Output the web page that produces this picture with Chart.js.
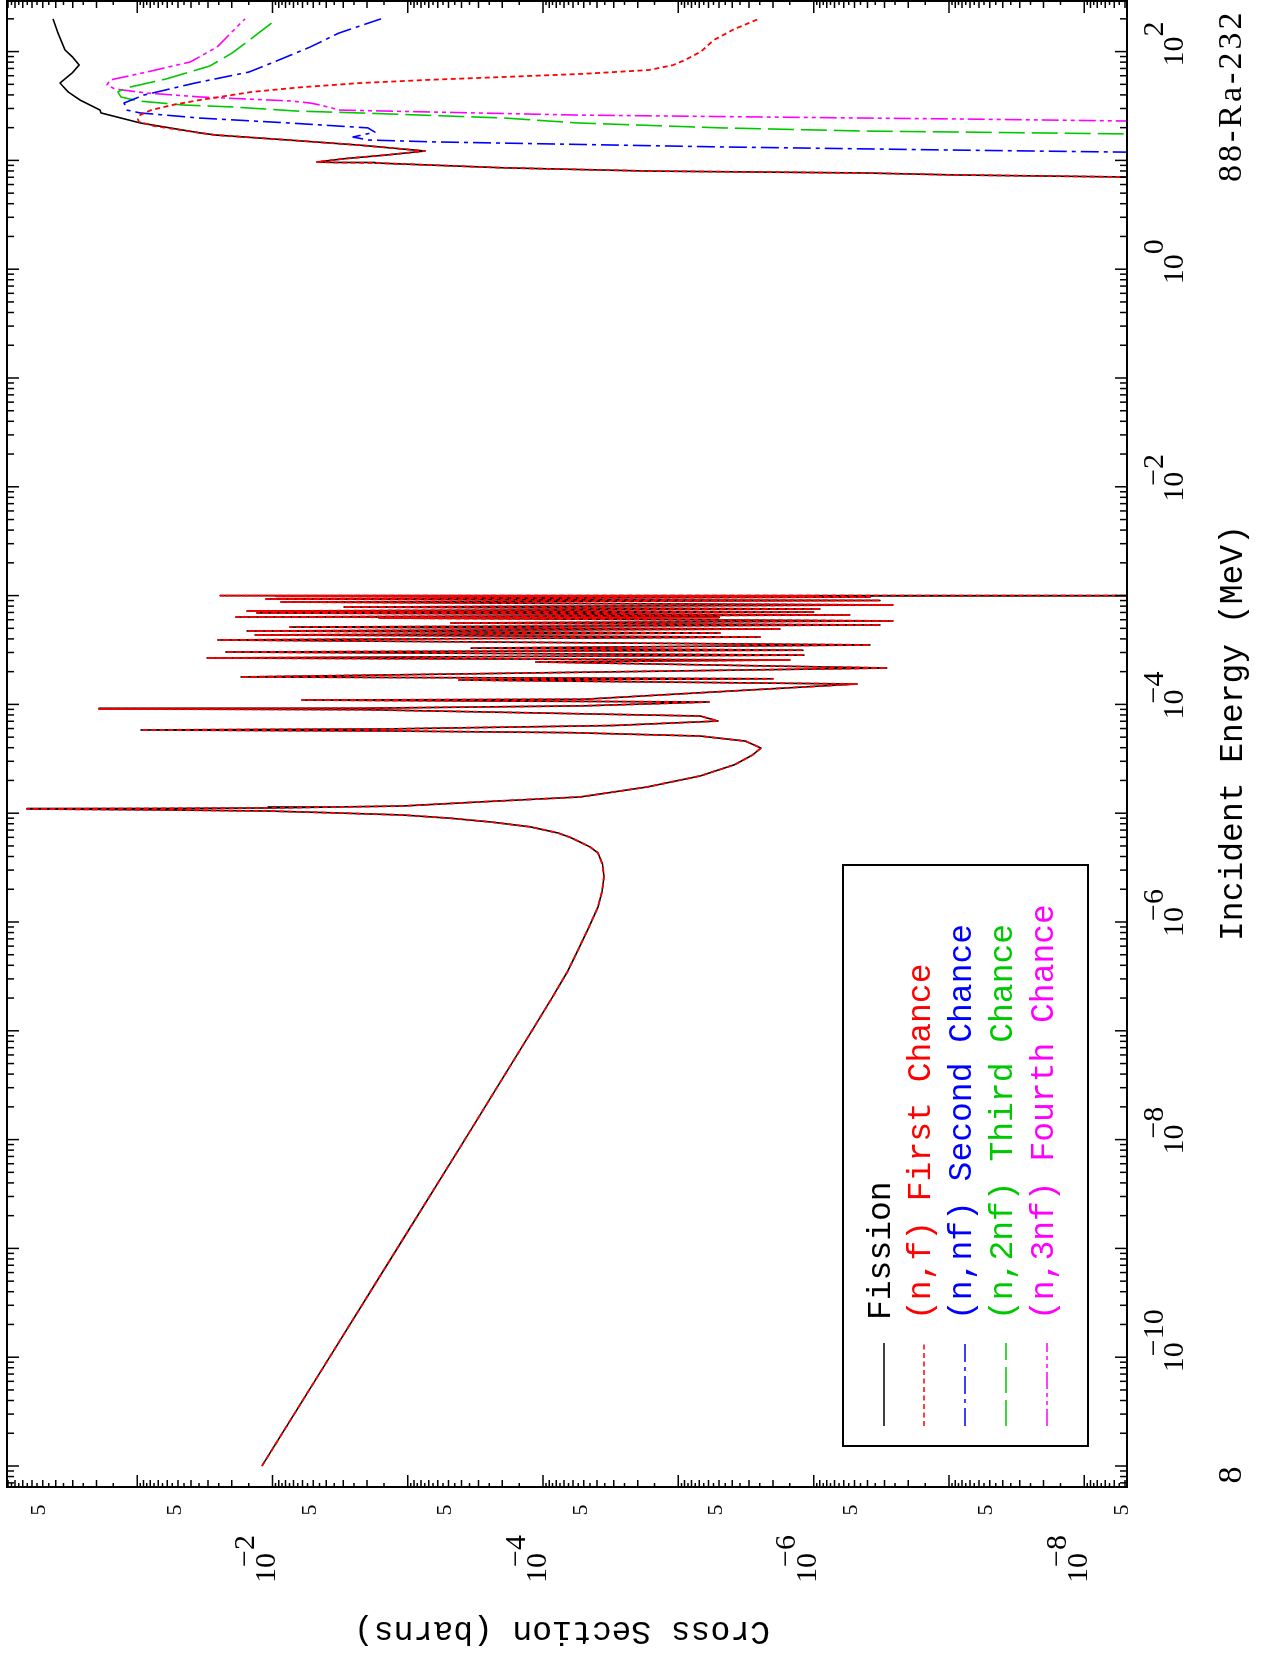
<!DOCTYPE html>
<html><head><meta charset="utf-8">
<script src="https://cdn.jsdelivr.net/npm/chart.js@4.4.1/dist/chart.umd.min.js"></script>
<style>
html,body{margin:0;padding:0;background:#fff;overflow:hidden;width:1264px;height:1661px;}
#wrap{position:absolute;left:0;top:0;width:1661px;height:1264px;transform-origin:0 0;transform:translate(0px,1661px) rotate(-90deg);background:#fff;}
canvas{display:block;}
</style></head><body>
<div id="wrap"><canvas id="c" width="1661" height="1264"></canvas></div>
<script>
// ---------------- data (energy in MeV, cross section in barns) ----------------
const fissionEnergy = [1e-11,1e-10,1e-9,1e-8,1e-7,2e-7,3.5e-7,5.77e-7,9e-7,1.374e-6,1.9e-6,2.6e-6,3.4e-6,4.31e-6,4.9e-6,5.43e-6,6.0e-6,6.58e-6,7.5e-6,8.3e-6,9.0e-6,9.63e-6,1.01e-5,1.047e-5,1.075e-5,1.093e-5,1.105e-5,1.117e-5,1.14e-5,1.164e-5,1.27e-5,1.41e-5,1.74e-5,2.2e-5,2.8e-5,3.4e-5,3.97e-5,4.6e-5,
  5.12e-5,5.5e-5,5.70e-5,5.82e-5,5.95e-5,6.4e-5,7.03e-5,7.82e-5,8.95e-5,9.08e-5,9.22e-5,9.7e-5,1.052e-4,1.096e-4,1.115e-4,
  1.54e-4,1.675e-4,1.72e-4,1.787e-4,2.16e-4,2.455e-4,2.56e-4,2.67e-4,2.84e-4,3.03e-4,3.15e-4,3.29e-4,3.52e-4,3.91e-4,4.16e-4,4.35e-4,4.53e-4,4.73e-4,4.93e-4,5.14e-4,5.37e-4,5.60e-4,5.85e-4,6.22e-4,6.28e-4,6.35e-4,6.64e-4,6.92e-4,7.06e-4,7.21e-4,7.53e-4,7.85e-4,8.2e-4,8.73e-4,9.02e-4,9.31e-4,9.7e-4,9.85e-4,9.92e-4,1.0e-3,1.0e-3,
  6.9,7.03,7.35,7.66,7.98,8.54,9.47,9.57,9.67,10.4,11.2,12.2,13.8,15.4,17.1,17.9,22.1,27.3,29.0,35.9,42.6,51.4,63.5,75.3,89,103.5,148,200];
const fissionSigma = [0.01197,0.003786,0.001197,3.786e-4,1.21e-4,8.6e-5,6.6e-5,5.43e-5,4.58e-5,3.93e-5,3.67e-5,3.55e-5,3.64e-5,3.93e-5,4.5e-5,5.33e-5,6.32e-5,7.76e-5,1.25e-4,2.43e-4,4.89e-4,1.10e-3,3.76e-3,0.0108,0.08,0.652,0.08,0.0108,3.5e-3,1.10e-3,2.92e-4,5.33e-5,1.71e-5,6.9e-6,3.82e-6,2.86e-6,2.45e-6,3.2e-6,
  6.9e-6,6.3e-5,1.5e-3,0.0938,1.4e-3,3e-5,5.1e-6,6.9e-6,2.2e-3,0.191,2.2e-3,5e-5,5.94e-6,6.05e-3,5e-5,
  4.79e-7,4.19e-4,2.0e-6,0.0171,2.88e-7,1.13e-4,1.5e-6,0.0305,1.18e-6,0.0221,1.2e-6,3.41e-4,3.84e-7,0.0253,2.49e-6,0.01345,4.93e-6,0.0154,1.77e-6,7.42e-3,3.24e-7,4.8e-4,2.6e-7,1.63e-3,5e-6,0.0186,5.4e-7,0.0130,1.0e-6,0.0154,8.97e-7,2.96e-3,2.6e-7,8.65e-3,3.24e-7,0.01117,3.84e-7,0.00943,1.0e-6,0.0243,1e-12,
  1e-12,4.6e-9,9e-8,4.18e-7,1.65e-5,1.91e-4,1.75e-3,3.5e-3,4.69e-3,2.87e-3,1.45e-3,7.46e-4,2.25e-3,7.68e-3,0.0262,0.0344,0.0952,0.185,0.188,0.265,0.324,0.372,0.303,0.269,0.30,0.342,0.385,0.419];

// first chance: identical to fission up to 17.9 MeV, then its own branch
const firstChanceSplit = 17.9;
const firstChanceEnergy = [20.7,22.6,24.0,26.1,29.0,32.3,35.9,42.6,47.0,51.4,55.0,58.5,62.5,67.7,75.0,83.7,100,128,160,200];
const firstChanceSigma  = [0.075,0.097,0.099,0.0952,0.079,0.055,0.0344,0.0142,6.2e-3,2.25e-3,7.0e-4,1.91e-4,5.0e-5,1.65e-5,1.1e-5,8.94e-6,6.8e-6,5.46e-6,3.9e-6,2.54e-6];

const secondChanceEnergy = [11.6,11.9,12.5,13.3,14.8,15.4,16.4,18.2,19.9,22.1,24.5,27.3,29.0,33.7,39.9,51.4,64.9,80.2,110,148,200];
const secondChanceSigma  = [1e-10,4.6e-9,1.23e-7,4.84e-6,6.52e-4,1.97e-3,2.54e-3,1.75e-3,1.97e-3,7.68e-3,0.0344,0.0952,0.119,0.125,0.0891,0.0374,0.0149,9.75e-3,5.28e-3,3.23e-3,1.58e-3];

const thirdChanceEnergy = [17.0,17.5,18.2,18.6,19.9,22.1,24.5,27.3,28.4,31.0,32.3,35.2,38.3,42.6,46.3,56.0,73.8,97,131,200];
const thirdChanceSigma  = [1e-10,4.6e-9,7.74e-8,4.18e-7,4.84e-6,5.61e-5,1.91e-4,2.25e-3,6.59e-3,0.0199,0.0458,0.099,0.132,0.139,0.121,0.0612,0.029,0.0199,0.0144,9.27e-3];

const fourthChanceEnergy = [22.5,23.0,24.0,24.5,26.1,29.0,32.3,33.7,35.2,38.3,41.6,45.3,49.3,54.8,64.9,80.2,110,155,200];
const fourthChanceSigma  = [1e-10,4.6e-9,7.74e-8,4.18e-7,5.61e-5,3.17e-3,4.46e-3,5.28e-3,7.42e-3,0.0344,0.0848,0.146,0.167,0.159,0.0848,0.0407,0.0257,0.0196,0.01596];

const seriesNames = ['Fission','(n,f) First Chance','(n,nf) Second Chance','(n,2nf) Third Chance','(n,3nf) Fourth Chance'];
const energyLabelExps = [-10,-8,-6,-4,-2,0,2];
const sigmaLabelExps = [-2,-4,-6,-8];
const sigmaFiveTicks = [5e-1,5e-2,5e-3,5e-4,5e-5,5e-6,5e-7,5e-8,5e-9];
const titleText = '88-Ra-232';
const cornerText = '8';
const xTitle = 'Incident Energy (MeV)';
const yTitle = 'Cross Section (barns)';

// ---------------- styles ----------------
const COLORS = ['#000000','#ff0000','#0000ff','#00c800','#ff00ff'];
const DASHES = [[],[5,3.5],[18,5,4,5],[26,7],[17,4,4,4,4,4]];
const MONO = '"Liberation Mono", "DejaVu Sans Mono", monospace';
const SERIF = '"Liberation Serif", "DejaVu Serif", serif';

function pts(E,S){ return E.map((e,i)=>({x:e,y:S[i]})); }
const fissionPts = pts(fissionEnergy, fissionSigma);
const firstPts = fissionPts.filter(p=>p.x<=firstChanceSplit).concat(pts(firstChanceEnergy, firstChanceSigma));

const dsBase = {showLine:true, pointRadius:0, borderWidth:1.6, tension:0, fill:false, clip:0, borderJoinStyle:'round'};
const datasets = [
  Object.assign({}, dsBase, {label:seriesNames[0], data:fissionPts, borderColor:COLORS[0], borderDash:DASHES[0], order:5}),
  Object.assign({}, dsBase, {label:seriesNames[1], data:firstPts, borderColor:COLORS[1], borderDash:DASHES[1], order:1, borderWidth:1.8}),
  Object.assign({}, dsBase, {label:seriesNames[2], data:pts(secondChanceEnergy,secondChanceSigma), borderColor:COLORS[2], borderDash:DASHES[2], order:2}),
  Object.assign({}, dsBase, {label:seriesNames[3], data:pts(thirdChanceEnergy,thirdChanceSigma), borderColor:COLORS[3], borderDash:DASHES[3], order:3}),
  Object.assign({}, dsBase, {label:seriesNames[4], data:pts(fourthChanceEnergy,fourthChanceSigma), borderColor:COLORS[4], borderDash:DASHES[4], order:4}),
];

function drawPow(ctx, exp, x, baseY, align, raise){
  const w1 = ctx.measureText('1').width, w10 = ctx.measureText('10').width;
  const x0 = align==='center' ? x - w10/2 : x - w10;
  ctx.textAlign='left'; ctx.textBaseline='alphabetic';
  ctx.fillText('10', x0, baseY);
  const sup = exp<0 ? '\u2212'+Math.abs(exp) : String(exp);
  const sx = exp<0 ? x0 + w1 + 1 : x0 + w10;
  ctx.fillText(sup, sx, baseY - raise);
}

const decor = {
  id:'decor',
  afterDatasetsDraw(chart){
    const ctx = chart.ctx, a = chart.chartArea, xs = chart.scales.x, ys = chart.scales.y;
    ctx.save();
    ctx.strokeStyle='#000'; ctx.fillStyle='#000'; ctx.lineWidth=1.5; ctx.setLineDash([]);
    ctx.beginPath();
    for(let e=-12;e<=2;e++){ for(let m=1;m<=9;m++){ const v=m*Math.pow(10,e); if(v<xs.min||v>xs.max) continue;
      const px=xs.getPixelForValue(v); const L = m===1?12:7;
      ctx.moveTo(px,a.bottom); ctx.lineTo(px,a.bottom-L); ctx.moveTo(px,a.top); ctx.lineTo(px,a.top+L); } }
    for(let e=-9;e<=0;e++){ for(let k=2;k<=19;k++){ const m=k/2; const v=m*Math.pow(10,e); if(v<ys.min||v>ys.max) continue;
      const py=ys.getPixelForValue(v); const L = m===1?12:(k%2===0?7:4);
      ctx.moveTo(a.left,py); ctx.lineTo(a.left+L,py); ctx.moveTo(a.right,py); ctx.lineTo(a.right-L,py); } }
    ctx.stroke();
    ctx.lineWidth=2;
    ctx.strokeRect(a.left,a.top,a.right-a.left,a.bottom-a.top);
    ctx.font='30px '+SERIF;
    energyLabelExps.forEach(ex=>{ drawPow(ctx, ex, xs.getPixelForValue(Math.pow(10,ex)), a.bottom+56, 'center', 20); });
    sigmaLabelExps.forEach(ex=>{ drawPow(ctx, ex, a.left-66, ys.getPixelForValue(Math.pow(10,ex))+2.5, 'right', 21); });
    ctx.font='22px '+SERIF; ctx.textAlign='center'; ctx.textBaseline='middle';
    sigmaFiveTicks.forEach(v=>{ ctx.fillText('5', a.left-23, ys.getPixelForValue(v)-3); });
    ctx.font='34px '+SERIF; ctx.textAlign='left'; ctx.textBaseline='alphabetic';
    try{ ctx.letterSpacing='3px'; }catch(e){}
    ctx.fillText(titleText, 1479, a.bottom+114);
    try{ ctx.letterSpacing='0px'; }catch(e){}
    ctx.textAlign='center';
    ctx.fillText(cornerText, a.left+12, a.bottom+114);
    ctx.font='33px '+MONO; ctx.textAlign='center'; ctx.textBaseline='middle';
    ctx.fillText(xTitle, (a.left+a.right)/2+11, a.bottom+106);
    ctx.save(); ctx.translate(30,(a.top+a.bottom)/2-5); ctx.rotate(-Math.PI/2); ctx.fillText(yTitle,0,0); ctx.restore();
    const lx=a.left+41, ly=843, lw=581, lh=245;
    ctx.fillStyle='#fff'; ctx.fillRect(lx,ly,lw,lh);
    ctx.lineWidth=2; ctx.strokeStyle='#000'; ctx.strokeRect(lx,ly,lw,lh);
    const rows=[884,924,965,1006,1047];
    ctx.font='33px '+MONO; ctx.textAlign='left'; ctx.textBaseline='middle';
    seriesNames.forEach((name,i)=>{
      ctx.strokeStyle=COLORS[i]; ctx.lineWidth=1.6; ctx.setLineDash(DASHES[i]);
      ctx.beginPath(); ctx.moveTo(235,rows[i]); ctx.lineTo(318,rows[i]); ctx.stroke();
      ctx.setLineDash([]);
      ctx.fillStyle=COLORS[i]; ctx.fillText(name,341,rows[i]-3);
    });
    ctx.restore();
  }
};

new Chart(document.getElementById('c'), {
  type:'scatter',
  data:{datasets},
  options:{
    responsive:false, animation:false, events:[],
    layout:{padding:{left:174,right:1,top:7,bottom:137}},
    plugins:{legend:{display:false}, tooltip:{enabled:false}},
    scales:{
      x:{type:'logarithmic', min:Math.pow(10,-11.193), max:Math.pow(10,2.465), display:false},
      y:{type:'logarithmic', min:Math.pow(10,-8.316), max:Math.pow(10,-0.0377), display:false}
    }
  },
  plugins:[decor]
});
</script>
</body></html>
